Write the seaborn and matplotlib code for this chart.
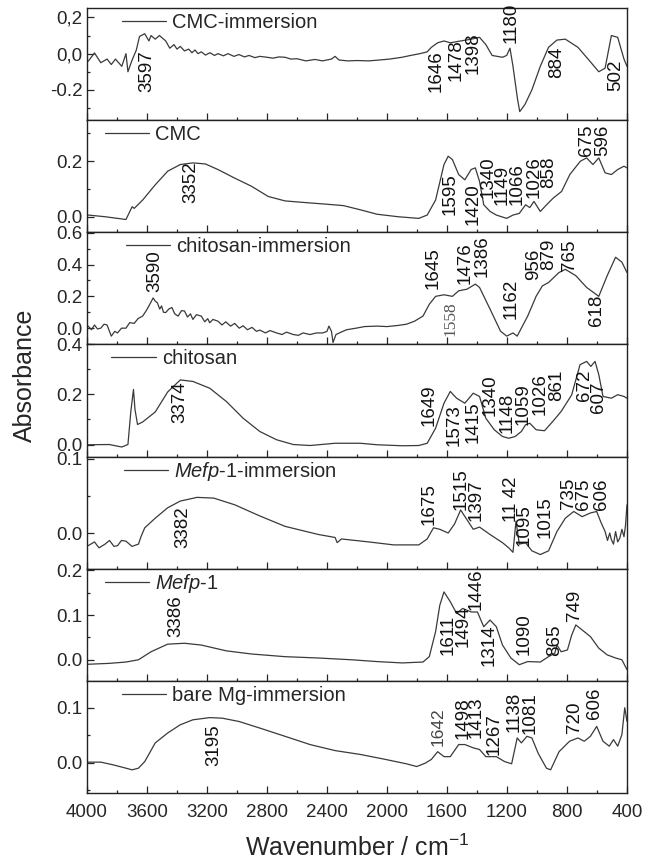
import numpy as np
import pandas as pd
import matplotlib
matplotlib.use("Agg")
import matplotlib.pyplot as plt
import seaborn as sns
from matplotlib.ticker import MultipleLocator

sns.set_style("ticks")
plt.rcParams["font.family"] = ["Liberation Sans", "DejaVu Sans"]
plt.rcParams["mathtext.fontset"] = "custom"
plt.rcParams["mathtext.rm"] = "Liberation Sans"
plt.rcParams["mathtext.it"] = "Liberation Sans:italic"

# ---------------- data ----------------
series_names = ["CMC-immersion", "CMC", "chitosan-immersion", "chitosan",
                r"$\mathit{Mefp}$-$\mathit{1}$-immersion", r"$\mathit{Mefp}$-$\mathit{1}$",
                "bare Mg-immersion"]

cmc_imm_wn = [3992, 3950, 3908, 3866, 3838, 3810, 3768, 3740, 3727, 3699, 3671, 3650, 3615, 3587,
              3573, 3545, 3517, 3475, 3448, 3420, 3400, 3378, 3350, 3322, 3300, 3280, 3260, 3238,
              3210, 3180, 3150, 3127, 3090, 3060, 3020, 2987, 2950, 2920, 2880, 2848, 2800, 2760,
              2720, 2680, 2640, 2600, 2541, 2480, 2430, 2401, 2370, 2346, 2320, 2262, 2200, 2122,
              2050, 1983, 1900, 1843, 1780, 1732, 1704, 1662, 1620, 1578, 1509, 1439, 1383, 1341,
              1299, 1230, 1202, 1180, 1160, 1130, 1115, 1080, 1034, 978, 923, 867, 811, 727, 644,
              588, 546, 504, 462, 420, 400]
cmc_imm_abs = [-0.042, 0.004, -0.05, -0.03, -0.06, -0.03, -0.07, 0.0, -0.10, -0.035, 0.02, 0.095,
               0.11, 0.07, 0.10, 0.08, 0.10, 0.07, 0.03, 0.05, 0.025, 0.04, 0.015, 0.025, 0.005,
               0.02, 0.0, 0.01, -0.008, 0.005, -0.01, 0.0, -0.012, 0.0, -0.015, -0.005, -0.018,
               -0.01, -0.022, -0.015, -0.02, -0.025, -0.018, -0.02, -0.03, -0.028, -0.04, -0.032,
               -0.04, -0.035, -0.03, -0.015, -0.035, -0.04, -0.038, -0.04, -0.035, -0.03, -0.02,
               -0.01, 0.0, 0.01, 0.035, 0.06, 0.07, 0.06, 0.07, 0.08, 0.09, 0.05, -0.01, -0.02,
               -0.01, 0.03, -0.07, -0.25, -0.32, -0.28, -0.20, -0.07, 0.035, 0.075, 0.08, 0.035,
               -0.045, -0.10, -0.08, 0.10, 0.09, -0.03, -0.07]

cmc_wn = [3992, 3880, 3740, 3699, 3685, 3629, 3545, 3462, 3378, 3294, 3210, 3127, 3015, 2904,
          2792, 2680, 2569, 2401, 2290, 2178, 2067, 1927, 1788, 1732, 1676, 1620, 1592, 1564,
          1522, 1481, 1439, 1411, 1383, 1355, 1313, 1271, 1202, 1160, 1118, 1076, 1048, 1020,
          978, 936, 892, 836, 781, 711, 669, 627, 588, 546, 504, 462, 420, 400]
cmc_abs = [0.006, 0.0, -0.01, 0.036, 0.03, 0.06, 0.115, 0.164, 0.188, 0.194, 0.19, 0.17, 0.139,
           0.11, 0.073, 0.057, 0.052, 0.045, 0.04, 0.025, 0.009, 0.0, -0.006, 0.006, 0.06, 0.188,
           0.218, 0.206, 0.152, 0.133, 0.17, 0.176, 0.127, 0.043, 0.019, 0.006, -0.006, 0.006,
           0.012, 0.043, 0.033, 0.055, 0.019, 0.043, 0.067, 0.091, 0.152, 0.2, 0.212, 0.188,
           0.212, 0.158, 0.152, 0.17, 0.182, 0.176]

chi_imm_wn = [3992, 3970, 3950, 3930, 3908, 3886, 3866, 3850, 3838, 3815, 3796, 3770, 3740, 3715,
              3685, 3660, 3629, 3605, 3587, 3559, 3545, 3531, 3515, 3503, 3490, 3475, 3455, 3434,
              3415, 3392, 3370, 3350, 3330, 3310, 3294, 3270, 3238, 3215, 3195, 3182, 3160, 3127,
              3100, 3075, 3043, 3015, 2985, 2959, 2930, 2900, 2870, 2848, 2810, 2780, 2736, 2700,
              2670, 2625, 2590, 2560, 2513, 2470, 2429, 2400, 2387, 2370, 2360, 2340, 2318, 2270,
              2206, 2150, 2067, 2000, 1927, 1870, 1816, 1760, 1718, 1676, 1620, 1564, 1522, 1467,
              1411, 1383, 1313, 1243, 1202, 1160, 1132, 1062, 1006, 964, 923, 853, 811, 741, 669,
              588, 532, 476, 434, 400]
chi_imm_abs = [0.013, -0.01, 0.02, -0.005, 0.0, 0.025, 0.02, -0.02, -0.05, -0.02, -0.03, 0.0,
               0.0, 0.035, 0.03, 0.06, 0.076, 0.11, 0.14, 0.19, 0.17, 0.16, 0.12, 0.14, 0.10,
               0.098, 0.12, 0.13, 0.09, 0.076, 0.11, 0.108, 0.07, 0.09, 0.055, 0.085, 0.076, 0.04,
               0.06, 0.034, 0.055, 0.044, 0.02, 0.04, 0.013, 0.03, 0.0, 0.015, -0.01, 0.005,
               -0.02, -0.012, -0.03, -0.015, -0.03, -0.04, -0.025, -0.04, -0.045, -0.03, -0.04,
               -0.03, -0.03, -0.02, 0.013, -0.02, -0.09, -0.04, -0.03, -0.01, 0.0, 0.01, 0.013,
               0.01, 0.017, 0.025, 0.044, 0.076, 0.15, 0.20, 0.21, 0.20, 0.235, 0.245, 0.277,
               0.256, 0.12, -0.019, -0.05, -0.03, -0.05, 0.076, 0.20, 0.266, 0.287, 0.35, 0.37,
               0.33, 0.256, 0.20, 0.33, 0.446, 0.415, 0.35]

chi_wn = [3992, 3852, 3768, 3727, 3708, 3690, 3680, 3663, 3629, 3545, 3462, 3378, 3294, 3182,
          3071, 2959, 2848, 2736, 2625, 2513, 2346, 2178, 2067, 1899, 1788, 1732, 1676, 1620,
          1578, 1536, 1481, 1425, 1383, 1341, 1285, 1230, 1188, 1146, 1104, 1076, 1048, 1006,
          950, 895, 839, 769, 713, 669, 641, 613, 588, 560, 504, 462, 420, 400]
chi_abs = [-0.001, 0.0, -0.01, 0.0, 0.13, 0.22, 0.14, 0.08, 0.09, 0.13, 0.21, 0.258, 0.252,
           0.225, 0.172, 0.105, 0.052, 0.019, 0.0, -0.004, 0.005, 0.005, -0.001, -0.005, -0.004,
           0.005, 0.065, 0.165, 0.212, 0.185, 0.165, 0.205, 0.192, 0.105, 0.059, 0.032, 0.025,
           0.032, 0.052, 0.079, 0.085, 0.059, 0.055, 0.092, 0.132, 0.198, 0.319, 0.332, 0.312,
           0.332, 0.279, 0.192, 0.185, 0.199, 0.192, 0.185]

mefp_imm_wn = [3992, 3950, 3920, 3880, 3850, 3820, 3796, 3770, 3740, 3700, 3657, 3640, 3615, 3545,
               3462, 3378, 3266, 3155, 3015, 2848, 2680, 2457, 2346, 2332, 2304, 2122, 1955, 1788,
               1732, 1690, 1648, 1592, 1550, 1509, 1467, 1425, 1383, 1313, 1230, 1188, 1160, 1140,
               1118, 1076, 1034, 978, 923, 867, 811, 755, 699, 644, 602, 575, 546, 530, 515, 504,
               490, 476, 462, 448, 434, 420, 410, 400]
mefp_imm_abs = [-0.017, -0.012, -0.02, -0.015, -0.01, -0.018, -0.017, -0.01, -0.011, -0.018,
                -0.015, -0.005, 0.007, 0.02, 0.034, 0.043, 0.048, 0.047, 0.038, 0.023, 0.009,
                -0.002, -0.006, -0.013, -0.008, -0.012, -0.016, -0.016, -0.008, 0.007, 0.005,
                0.0, 0.012, 0.031, 0.018, 0.005, 0.008, -0.002, -0.013, -0.02, -0.026, 0.016,
                -0.015, -0.013, -0.024, -0.029, -0.024, 0.002, 0.02, 0.029, 0.022, 0.027, 0.029,
                0.015, 0.002, -0.01, 0.0, -0.009, -0.015, 0.002, -0.012, -0.007, 0.005, -0.005,
                0.01, 0.038]

mefp_wn = [3992, 3852, 3740, 3657, 3573, 3462, 3350, 3238, 3071, 2904, 2680, 2457, 2234, 2067,
           1899, 1760, 1718, 1676, 1648, 1620, 1578, 1536, 1495, 1439, 1397, 1355, 1313, 1271,
           1230, 1174, 1118, 1062, 978, 923, 881, 867, 839, 797, 769, 741, 685, 644, 588, 532,
           476, 434, 400]
mefp_abs = [-0.01, -0.008, -0.005, 0.0, 0.018, 0.035, 0.037, 0.033, 0.02, 0.013, 0.007, 0.004,
            0.0, -0.004, -0.007, -0.005, 0.007, 0.063, 0.122, 0.152, 0.13, 0.104, 0.115, 0.107,
            0.107, 0.074, 0.089, 0.074, 0.033, 0.004, -0.011, -0.004, -0.005, 0.007, 0.015,
            0.033, 0.018, 0.022, 0.055, 0.078, 0.063, 0.052, 0.026, 0.011, 0.004, 0.0, -0.022]

mg_imm_wn = [3992, 3908, 3824, 3740, 3699, 3657, 3615, 3545, 3462, 3378, 3294, 3182, 3099, 2987,
             2848, 2680, 2513, 2346, 2178, 2011, 1871, 1802, 1746, 1704, 1662, 1620, 1578, 1522,
             1481, 1425, 1383, 1341, 1271, 1216, 1169, 1132, 1104, 1067, 1034, 992, 937, 909,
             853, 783, 727, 685, 644, 602, 560, 518, 490, 462, 434, 415, 400]
mg_imm_abs = [0.001, 0.001, -0.004, -0.01, -0.013, -0.01, 0.002, 0.036, 0.054, 0.069, 0.078,
              0.082, 0.081, 0.075, 0.063, 0.048, 0.033, 0.022, 0.015, 0.006, -0.002, -0.007,
              -0.001, 0.006, 0.02, 0.011, 0.011, 0.033, 0.033, 0.027, 0.024, 0.011, 0.011, 0.002,
              -0.002, 0.045, 0.036, 0.048, 0.045, 0.017, -0.01, -0.013, 0.02, 0.039, 0.045,
              0.039, 0.048, 0.066, 0.039, 0.03, 0.042, 0.03, 0.051, 0.10, 0.075]

# peak labels: text, wavenumber of label centre, data y of label top
cmc_imm_peaks = ["3597", "1646", "1478", "1398", "1180", "884", "502"]
cmc_imm_px = [3601, 1675, 1536, 1425, 1174, 867, 477]
cmc_imm_py = [0.02, 0.02, 0.077, 0.12, 0.28, 0.038, -0.033]

cmc_peaks = ["3352", "1595", "1420", "1340", "1149", "1066", "1026", "858", "675", "596"]
cmc_px = [3308, 1578, 1425, 1327, 1230, 1132, 1020, 923, 669, 560]
cmc_py = [0.20, 0.158, 0.122, 0.218, 0.188, 0.194, 0.218, 0.218, 0.333, 0.333]

chi_imm_peaks = ["3590", "1645", "1558", "1476", "1386", "1162", "956", "879", "765", "618"]
chi_imm_px = [3545, 1690, 1578, 1481, 1369, 1174, 1020, 923, 783, 602]
chi_imm_py = [0.49, 0.51, 0.171, 0.54, 0.584, 0.31, 0.50, 0.56, 0.56, 0.21]

chi_peaks = ["3374", "1649", "1573", "1415", "1340", "1148", "1059", "1026", "861", "672", "607"]
chi_px = [3378, 1718, 1550, 1425, 1313, 1202, 1090, 978, 867, 683, 588]
chi_py = [0.252, 0.239, 0.159, 0.172, 0.279, 0.205, 0.245, 0.285, 0.298, 0.298, 0.252]

mefp_imm_peaks = ["3382", "1675", "1515", "1397", "11 42", "1095", "1015", "735", "675", "606"]
mefp_imm_px = [3364, 1716, 1504, 1404, 1170, 1083, 949, 788, 688, 567]
mefp_imm_py = [0.036, 0.067, 0.087, 0.072, 0.076, 0.039, 0.049, 0.074, 0.074, 0.074]

mefp_peaks = ["3386", "1611", "1494", "1446", "1314", "1090", "865", "749"]
mefp_px = [3406, 1593, 1493, 1404, 1317, 1083, 882, 748]
mefp_py = [0.144, 0.10, 0.122, 0.204, 0.078, 0.104, 0.078, 0.156]

mg_imm_peaks = ["3195", "1642", "1498", "1413", "1267", "1138", "1081", "720", "606"]
mg_imm_px = [3155, 1660, 1493, 1404, 1283, 1150, 1049, 748, 615]
mg_imm_py = [0.069, 0.10, 0.118, 0.12, 0.091, 0.129, 0.129, 0.111, 0.136]

x_ticks = [4000, 3600, 3200, 2800, 2400, 2000, 1600, 1200, 800, 400]

# per panel axes settings
y_limits = [(-0.367, 0.252), (-0.056, 0.348), (-0.102, 0.603), (-0.048, 0.40),
            (-0.048, 0.103), (-0.047, 0.204), (-0.055, 0.149)]
y_ticks = [[-0.2, 0.0, 0.2], [0.0, 0.2], [0.0, 0.2, 0.4, 0.6], [0.0, 0.2, 0.4],
           [0.0, 0.1], [0.0, 0.1, 0.2], [0.0, 0.1]]
y_ticklabels = [["-0.2", "0,0", "0,2"], ["0.0", "0.2"], ["0.0", "0.2", "0.4", "0.6"],
                ["0.0", "0.2", "0.4"], ["0.0", "0.1"], ["0.0", "0.1", "0.2"], ["0.0", "0.1"]]
y_minor = [0.1, 0.1, 0.1, 0.1, 0.05, 0.05, 0.05]
legend_x = [0.064, 0.033, 0.072, 0.045, 0.068, 0.033, 0.064]

spectra = [(cmc_imm_wn, cmc_imm_abs), (cmc_wn, cmc_abs), (chi_imm_wn, chi_imm_abs),
           (chi_wn, chi_abs), (mefp_imm_wn, mefp_imm_abs), (mefp_wn, mefp_abs),
           (mg_imm_wn, mg_imm_abs)]
peaks = [(cmc_imm_peaks, cmc_imm_px, cmc_imm_py), (cmc_peaks, cmc_px, cmc_py),
         (chi_imm_peaks, chi_imm_px, chi_imm_py), (chi_peaks, chi_px, chi_py),
         (mefp_imm_peaks, mefp_imm_px, mefp_imm_py), (mefp_peaks, mefp_px, mefp_py),
         (mg_imm_peaks, mg_imm_px, mg_imm_py)]

# ---------------- figure ----------------
fig, axes = plt.subplots(7, 1, sharex=True, figsize=(6.54, 8.6), dpi=100)
fig.subplots_adjust(left=0.133, right=0.9587, top=0.9907, bottom=0.078, hspace=0)

line_color = "#3a3a3a"
for i, ax in enumerate(axes):
    wn, ab = spectra[i]
    df = pd.DataFrame({"wn": wn, "abs": ab})
    sns.lineplot(data=df, x="wn", y="abs", ax=ax, color=line_color, lw=0.9,
                 estimator=None, sort=False, label=series_names[i])
    ax.set_xlim(4000, 400)
    ax.set_ylim(*y_limits[i])
    ax.set_yticks(y_ticks[i])
    ax.set_yticklabels(y_ticklabels[i])
    ax.yaxis.set_minor_locator(MultipleLocator(y_minor[i]))
    ax.xaxis.set_minor_locator(MultipleLocator(200))
    ax.set_xticks(x_ticks)
    ax.set_xlabel("")
    ax.set_ylabel("")
    ax.tick_params(axis="both", which="both", direction="in", top=False, right=False,
                   labelsize=13.5, width=0.9)
    ax.tick_params(axis="both", which="major", length=5)
    ax.tick_params(axis="both", which="minor", length=2.5)
    ax.tick_params(axis="y", pad=3)
    for sp in ax.spines.values():
        sp.set_linewidth(1.0)
        sp.set_color("#222222")
    ax.legend(loc="center left", bbox_to_anchor=(legend_x[i], 0.87), frameon=False,
              fontsize=14.5, handlelength=2.2, handletextpad=0.3, borderpad=0,
              borderaxespad=0)
    labs, px, py = peaks[i]
    for t, x, y in zip(labs, px, py):
        kw = dict(rotation=90, ha="center", va="top", fontsize=13.5, color="#111111",
                  clip_on=False, linespacing=1.0)
        if t == "1558":
            kw.update(family="Liberation Serif", color="#555555", fontsize=12.5)
        if t == "1642":
            kw.update(color="#444444", fontsize=12.5)
        ax.text(x, y, t, **kw)
    if i < 6:
        ax.tick_params(axis="x", labelbottom=False)

axes[-1].tick_params(axis="x", pad=8)
axes[-1].set_xlabel(r"Wavenumber / cm$^{-1}$", fontsize=18, labelpad=10)
fig.text(0.038, 0.564, "Absorbance", rotation=90, ha="center", va="center", fontsize=18)

fig.savefig("out.png", dpi=100)
